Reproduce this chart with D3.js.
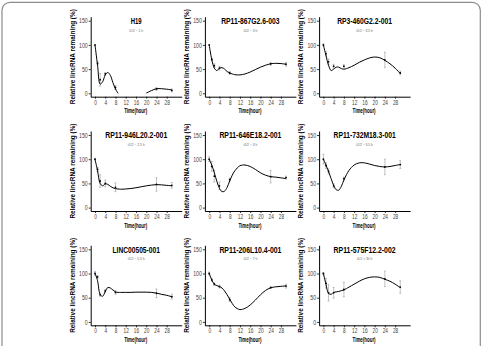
<!DOCTYPE html>
<html><head><meta charset="utf-8">
<script src="https://cdn.jsdelivr.net/npm/d3@7"></script>
<style>body{margin:0;background:#fff}svg{display:block}</style>
</head><body>
<script>
// ---- data ----
const titles = ["H19","RP11-867G2.6-003","RP3-460G2.2-001","RP11-946L20.2-001","RP11-646E18.2-001","RP11-732M18.3-001","LINC00505-001","RP11-206L10.4-001","RP11-575F12.2-002"];
const halfLives = ["t1/2 ~ 1 h","t1/2 ~ 3 h","t1/2 ~ 3.5 h","t1/2 ~ 2.5 h","t1/2 ~ 3 h","t1/2 ~ 3.5 h","t1/2 ~ 5.5 h","t1/2 ~ 7 h","t1/2 > 30 h"];
const xTicks = [0,4,8,12,16,20,24,28];
const yTicks = [0,50,100,150];
const times = [0,1,2,4,8,24,30];
const means = [
  [100,62,28,40,12,9,6],
  [100,70,57,52,42,61,60],
  [100,82,65,56,56,69,42],
  [100,79,55,50,42,48,46],
  [100,85,65,45,58,64,62],
  [100,87,75,45,60,84,89],
  [100,93,56,64,61,59,52],
  [100,87,78,73,46,71,74],
  [100,80,60,60,67,89,72]
];
const errs = [
  [0,3,13,3,4,3,3],
  [0,3,4,4,3,3,4],
  [2,4,6,4,3,16,4],
  [2,4,13,7,9,14,6],
  [5,10,12,8,3,13,3],
  [10,6,5,4,3,16,8],
  [4,3,3,3,4,9,5],
  [3,3,3,3,4,2,4],
  [2,10,17,11,15,16,13]
];
const fitTimes = [0,1,2,3,4,5,6,7,8,9,10,12,14,16,18,20,22,24,26,28,30];
const fits = [
  [100,58,19,24,38,43,37,22,9,0,null,null,null,null,null,0.5,5.5,9.5,9.5,8.5,7],
  [100,70,52,47,52,53,50,45,42,40,38.5,38,40,44,49,54,58,61,62,61.5,60],
  [100,78,58,47,50,54,54,51,50,51,53,58,64,69,73,75,73.5,68,61,52,41],
  [100,76,50,45,49,48,44,41,39,38.5,38,38.5,39.5,41,43,45,46.5,47.5,47,46,45],
  [100,88,72,54,40,33,34,42,55,67,76,86.5,88,85,79,72,67,64,63,61.5,60],
  [100,88,75,60,46,37,36,44,57,68,77,88,92.5,92.5,90,87,85,84,85,87,89],
  [101,85,57,53,63,71,70,66,62,61,61,61,61,61.5,61.5,61.5,61,59.5,57,55,52],
  [100,87,78,75,73,70,64,56,47,38,31,25.5,28,35,45,56,65,70.5,72.5,73.5,74.5],
  [100,78,59,57,61,62,63,64.5,66,69,72,78,84,89,92,93,92,88,84,78,71]
];

// ---- drawing ----
const W = 483, H = 346;
const FONT = "'Liberation Sans Narrow','Liberation Sans',Arial,sans-serif";
const svg = d3.select("body").append("svg").attr("width", W).attr("height", H);
svg.append("rect").attr("x",2).attr("y",2.3).attr("width",478.3).attr("height",370)
  .attr("rx",8).attr("fill","none").attr("stroke","#8c8c8c").attr("stroke-width",1.2);

titles.forEach((title, i) => {
  const c = i % 3, r = Math.floor(i / 3);
  const ox = 90.7 + 114.2 * c, oy = 96.7 + 114.3 * r;
  const x = d3.scaleLinear().domain([-1.68, 33.85]).range([ox, ox + 91]);
  const y = d3.scaleLinear().domain([-7, 158.3]).range([oy, oy - 80]);
  const g = svg.append("g");

  const xa = g.append("g").attr("transform", `translate(0,${oy})`)
    .call(d3.axisBottom(x).tickValues(xTicks).tickSize(2).tickPadding(1).tickSizeOuter(0));
  const ya = g.append("g").attr("transform", `translate(${ox},0)`)
    .call(d3.axisLeft(y).tickValues(yTicks).tickSize(2).tickPadding(1).tickSizeOuter(0));
  [xa, ya].forEach(a => {
    a.attr("font-family", FONT).attr("font-size", 7);
    a.select(".domain").attr("stroke", "#000").attr("stroke-width", 1);
    a.selectAll(".tick line").attr("stroke", "#000").attr("stroke-width", 0.8);
    a.selectAll(".tick text").attr("fill", "#444");
  });
  xa.selectAll(".tick text").each(function(){ const s=this.textContent; d3.select(this).attr("textLength", 2.65*s.length).attr("lengthAdjust","spacingAndGlyphs"); });
  ya.selectAll(".tick text").each(function(){ const s=this.textContent; d3.select(this).attr("textLength", 2.9*s.length).attr("lengthAdjust","spacingAndGlyphs"); });

  // titles
  g.append("text").attr("x", ox + 45.5).attr("y", oy - 72.7).attr("text-anchor","middle")
    .attr("font-family", FONT).attr("font-weight","bold").attr("font-size", 9.5)
    .attr("textLength", 3.65 * title.length).attr("lengthAdjust","spacingAndGlyphs").text(title);
  g.append("text").attr("x", ox + 45.5).attr("y", oy - 65.2).attr("text-anchor","middle")
    .attr("font-family", FONT).attr("font-size", 4).attr("fill","#666")
    .attr("textLength", 1.4 * halfLives[i].length).attr("lengthAdjust","spacingAndGlyphs").text(halfLives[i]);
  g.append("text").attr("x", ox + 45).attr("y", oy + 16.6).attr("text-anchor","middle")
    .attr("font-family", FONT).attr("font-weight","bold").attr("font-size", 7)
    .attr("textLength", 23).attr("lengthAdjust","spacingAndGlyphs").text("Time(hour)");
  g.append("text").attr("transform", `translate(${ox - 15.7},${oy - 40}) rotate(-90)`).attr("text-anchor","middle")
    .attr("font-family", FONT).attr("font-weight","bold").attr("font-size", 6.5)
    .attr("textLength", 95).attr("lengthAdjust","spacingAndGlyphs").text("Relative lincRNA remaining (%)");

  // error bars
  const eb = g.append("g").attr("stroke", "#9a9a9a").attr("stroke-width", 0.6);
  times.forEach((t, k) => {
    const e = errs[i][k]; if (!e) return;
    const m = means[i][k], xx = x(t);
    eb.append("line").attr("x1", xx).attr("x2", xx).attr("y1", y(m - e)).attr("y2", y(m + e));
    eb.append("line").attr("x1", xx - 1).attr("x2", xx + 1).attr("y1", y(m - e)).attr("y2", y(m - e));
    eb.append("line").attr("x1", xx - 1).attr("x2", xx + 1).attr("y1", y(m + e)).attr("y2", y(m + e));
  });

  // fitted curve
  const pts = fitTimes.map((t, k) => [t, fits[i][k]]);
  const line = d3.line().defined(d => d[1] !== null).x(d => x(d[0])).y(d => y(d[1]))
    .curve(d3.curveCatmullRom.alpha(0.5));
  g.append("path").attr("d", line(pts)).attr("fill","none").attr("stroke","#000").attr("stroke-width",1);

  // points
  g.append("g").selectAll("circle").data(times.map((t, k) => [t, means[i][k]])).join("circle")
    .attr("cx", d => x(d[0])).attr("cy", d => y(d[1])).attr("r", 0.9).attr("fill", "#000");
});
</script>
</body></html>
